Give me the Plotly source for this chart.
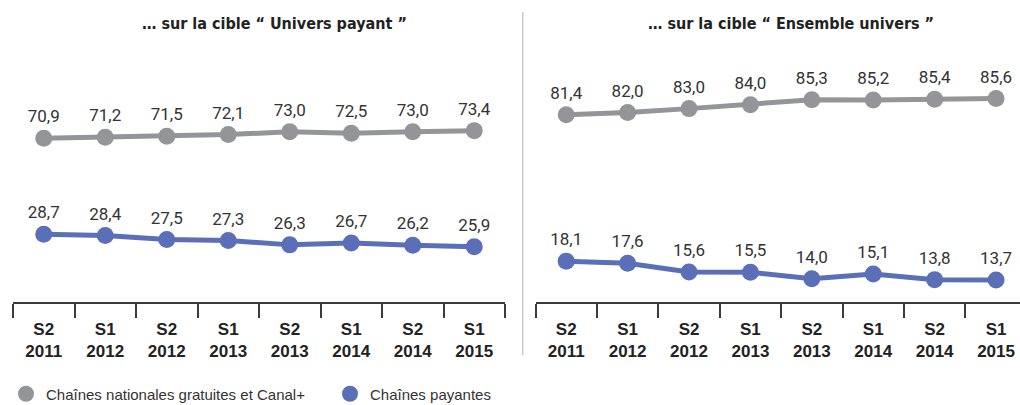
import plotly.graph_objects as go

periods = ["S2<br>2011", "S1<br>2012", "S2<br>2012", "S1<br>2013",
           "S2<br>2013", "S1<br>2014", "S2<br>2014", "S1<br>2015"]
cats = ["S2 2011", "S1 2012", "S2 2012", "S1 2013",
        "S2 2013", "S1 2014", "S2 2014", "S1 2015"]

payant_gratuites = [70.9, 71.2, 71.5, 72.1, 73.0, 72.5, 73.0, 73.4]
payant_payantes = [28.7, 28.4, 27.5, 27.3, 26.3, 26.7, 26.2, 25.9]
ensemble_gratuites = [81.4, 82.0, 83.0, 84.0, 85.3, 85.2, 85.4, 85.6]
ensemble_payantes = [18.1, 17.6, 15.6, 15.5, 14.0, 15.1, 13.8, 13.7]

titles = ["… sur la cible “ Univers payant ”", "… sur la cible “ Ensemble univers ”"]
legend_names = ["Chaînes nationales gratuites et Canal+", "Chaînes payantes"]

GRAY = "#939598"
BLUE = "#5b6fb9"
TXT = "#333333"

W, H = 1020, 405
T, B = 40, 302
PH = B - T


def fmt(v):
    return f"{v:.1f}".replace(".", ",")


fig = go.Figure()

series = [
    (payant_gratuites, GRAY, "x", "y"),
    (payant_payantes, BLUE, "x", "y2"),
    (ensemble_gratuites, GRAY, "x2", "y3"),
    (ensemble_payantes, BLUE, "x2", "y4"),
]
for vals, col, xa, ya in series:
    fig.add_trace(go.Scatter(
        x=cats, y=vals, xaxis=xa, yaxis=ya,
        mode="lines+markers+text",
        line=dict(color=col, width=5),
        marker=dict(color=col, size=17),
        text=[fmt(v) for v in vals], textposition="top center",
        textfont=dict(family="Roboto", size=17, color=TXT),
        showlegend=False, hoverinfo="skip", cliponaxis=False,
    ))

for i, (name, col) in enumerate(zip(legend_names, [GRAY, BLUE])):
    fig.add_trace(go.Scatter(
        x=[None], y=[None], mode="markers", name=name,
        marker=dict(color=col, size=19),
        legend="legend" if i == 0 else "legend2",
    ))

xcommon = dict(
    type="category", categoryorder="array", categoryarray=cats,
    tickmode="array", tickvals=cats, ticktext=[f"<b>{p}</b>" for p in periods],
    showline=True, linecolor="#3c3c3c", linewidth=1.5,
    ticks="outside", tickson="boundaries", ticklen=14, tickwidth=1.5, tickcolor="#3c3c3c",
    ticklabelstandoff=11,
    tickfont=dict(family="Liberation Sans, Arial", size=17, color="#222222"),
    showgrid=False, zeroline=False, fixedrange=True,
)

leg_y = (H - 394) / H

fig.update_layout(
    width=W, height=H,
    margin=dict(l=0, r=0, t=T, b=H - B, autoexpand=False),
    paper_bgcolor="white", plot_bgcolor="white",
    xaxis=dict(xcommon, domain=[13 / W, 505 / W], range=[-0.5, 7.5], anchor="y"),
    xaxis2=dict(xcommon, domain=[535.5 / W, 1.0], range=[-0.5, 7.39], anchor="y3"),
    yaxis=dict(visible=False, range=[16.3, 103.6], domain=[0, 1], fixedrange=True),
    yaxis2=dict(visible=False, range=[13.5, 72.2], overlaying="y", fixedrange=True),
    yaxis3=dict(visible=False, range=[33.4, 100.6], domain=[0, 1], anchor="x2", fixedrange=True),
    yaxis4=dict(visible=False, range=[8.6, 69.5], overlaying="y3", anchor="x2", fixedrange=True),
    legend=dict(x=6 / W, y=leg_y, xref="container", yref="container",
                xanchor="left", yanchor="middle",
                orientation="h", font=dict(family="Liberation Sans, Arial", size=15, color=TXT),
                bgcolor="rgba(0,0,0,0)"),
    legend2=dict(x=330 / W, y=leg_y, xref="container", yref="container",
                 xanchor="left", yanchor="middle",
                 orientation="h", font=dict(family="Liberation Sans, Arial", size=15, color=TXT),
                 bgcolor="rgba(0,0,0,0)"),
    shapes=[dict(type="line", xref="paper", yref="paper",
                 x0=522.7 / W, x1=522.7 / W, y0=(B - 12) / PH, y1=(B - 355) / PH,
                 line=dict(color="#c8c8c8", width=1.5))],
    annotations=[
        dict(text=f"<b>{titles[0]}</b>", xref="paper", yref="paper",
             x=274.5 / W, y=(B - 24) / PH, xanchor="center", yanchor="middle", showarrow=False,
             font=dict(family="DejaVu Sans Condensed, Liberation Sans Narrow", size=16, color="#222222")),
        dict(text=f"<b>{titles[1]}</b>", xref="paper", yref="paper",
             x=791 / W, y=(B - 24) / PH, xanchor="center", yanchor="middle", showarrow=False,
             font=dict(family="DejaVu Sans Condensed, Liberation Sans Narrow", size=16, color="#222222")),
    ],
)

fig.write_html("out.html", config={"displayModeBar": False},
               post_script="document.body.style.margin='0';")
